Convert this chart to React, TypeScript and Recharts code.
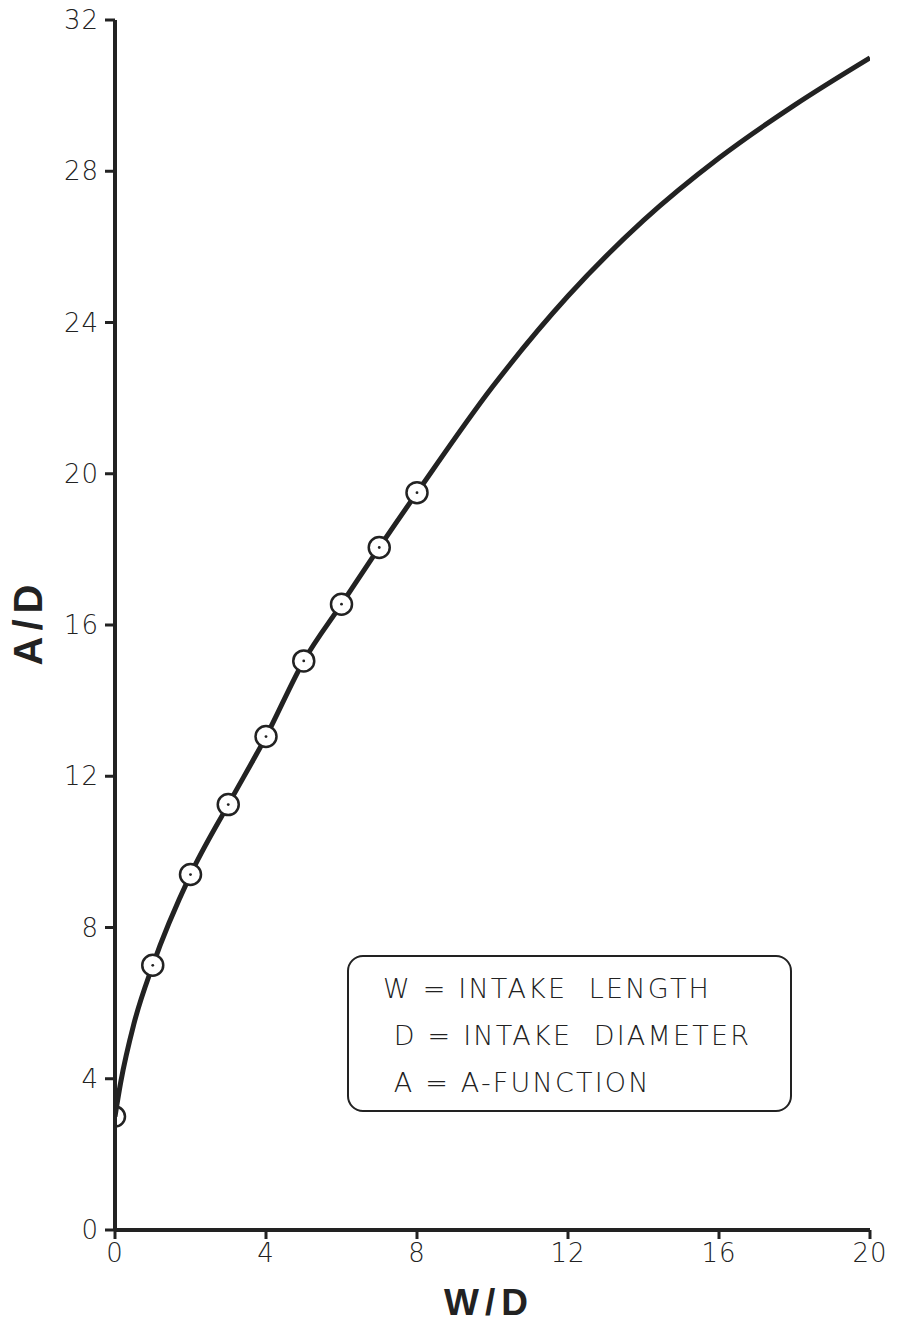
import React from "react"
import { ComposedChart, XAxis, YAxis, Line, Scatter } from "recharts"

// W/D values of the plotted circles and their A/D
const pointW = [0, 1, 2, 3, 4, 5, 6, 7, 8]
const pointA = [3, 7, 9.4, 11.25, 13.05, 15.05, 16.55, 18.05, 19.5]

// fitted curve
const curveW = [0, 0.15, 0.5, 1, 2, 3, 4, 5, 6, 7, 8, 10, 12, 14, 16, 18, 20]
const curveA = [3, 3.9, 5.45, 7, 9.4, 11.25, 13.05, 15.05, 16.55, 18.05, 19.5, 22.3, 24.7, 26.7, 28.35, 29.75, 31.0]

const xTicks = [0, 4, 8, 12, 16, 20]
const yTicks = [0, 4, 8, 12, 16, 20, 24, 28, 32]

const legendLines = ["W = INTAKE  LENGTH", " D = INTAKE  DIAMETER", " A = A-FUNCTION"]

const ink = "#222"
const tickFont = { fill: ink, fontSize: 26, fontFamily: "DejaVu Sans", fontWeight: 300, letterSpacing: 1 }

const points = pointW.map((w, i) => ({ w, a: pointA[i] }))
const curve = curveW.map((w, i) => ({ w, a: curveA[i] }))

function Ring(props: any) {
  const { cx, cy, index } = props
  if (index === 0) {
    return <circle cx={cx} cy={cy} r={10} fill="none" stroke={ink} strokeWidth={2.5} />
  }
  return (
    <g>
      <circle cx={cx} cy={cy} r={10.5} fill="#fff" stroke={ink} strokeWidth={2.5} />
      <circle cx={cx} cy={cy} r={1.4} fill={ink} />
    </g>
  )
}

export default function App() {
  return (
    <div style={{ position: "absolute", left: 0, top: 0, width: 897, height: 1325, background: "#fff" }}>
      <ComposedChart width={897} height={1325} margin={{ top: 20, right: 27, left: 0, bottom: 0 }}>
        <XAxis
          dataKey="w"
          type="number"
          domain={[0, 20]}
          ticks={xTicks}
          allowDataOverflow
          height={95}
          axisLine={{ stroke: ink, strokeWidth: 4 }}
          tickLine={{ stroke: ink, strokeWidth: 3 }}
          tickSize={9}
          tickMargin={5}
          tick={tickFont}
        />
        <YAxis
          dataKey="a"
          type="number"
          domain={[0, 32]}
          ticks={yTicks}
          width={115}
          axisLine={{ stroke: ink, strokeWidth: 4 }}
          tickLine={{ stroke: ink, strokeWidth: 3 }}
          tickSize={10}
          tickMargin={6}
          tick={tickFont}
        />
        <Line
          data={curve}
          dataKey="a"
          type="monotone"
          stroke={ink}
          strokeWidth={5}
          dot={false}
          activeDot={false}
          isAnimationActive={false}
        />
        <Scatter data={points} dataKey="a" shape={<Ring />} isAnimationActive={false} />
      </ComposedChart>

      <div
        style={{
          position: "absolute",
          left: 28,
          top: 622,
          transform: "translate(-50%, -50%) rotate(-90deg)",
          fontFamily: "Liberation Sans",
          fontWeight: 700,
          fontSize: 40,
          letterSpacing: 6,
          color: ink,
          whiteSpace: "nowrap",
        }}
      >
        A/D
      </div>
      <div
        style={{
          position: "absolute",
          left: 489,
          top: 1303,
          transform: "translate(-50%, -50%)",
          fontFamily: "Liberation Sans",
          fontWeight: 700,
          fontSize: 37,
          letterSpacing: 6,
          color: ink,
          whiteSpace: "nowrap",
        }}
      >
        W/D
      </div>

      <div
        style={{
          position: "absolute",
          left: 347,
          top: 955,
          width: 445,
          height: 157,
          boxSizing: "border-box",
          border: `2.5px solid ${ink}`,
          borderRadius: 16,
          padding: "8px 0 0 34px",
          fontFamily: "DejaVu Sans",
          fontWeight: 300,
          fontSize: 27,
          letterSpacing: 2.2,
          lineHeight: "47px",
          color: ink,
          whiteSpace: "pre",
        }}
      >
        {legendLines.map((t) => (
          <div key={t}>{t}</div>
        ))}
      </div>
    </div>
  )
}
